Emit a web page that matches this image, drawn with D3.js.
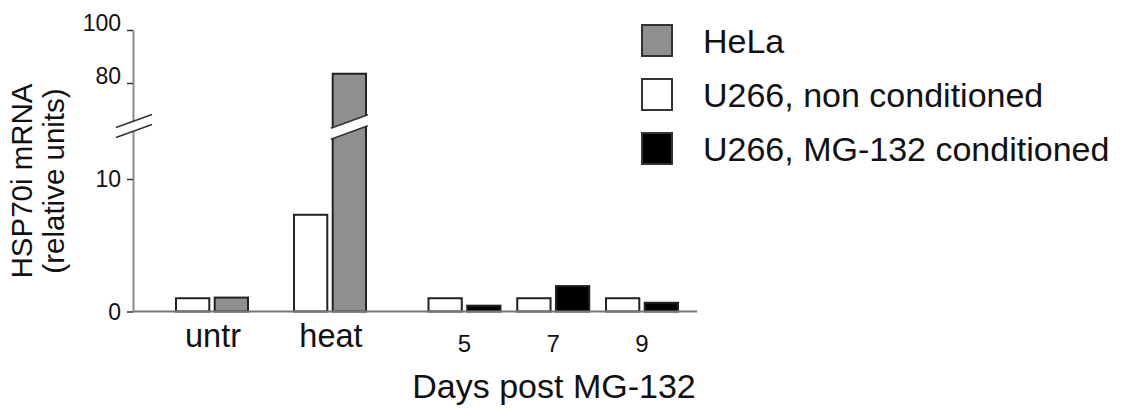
<!DOCTYPE html>
<html>
<head>
<meta charset="utf-8">
<script src="https://cdn.jsdelivr.net/npm/d3@7"></script>
<style>
  html, body { margin: 0; padding: 0; background: #fff; }
  svg { display: block; font-family: "Liberation Sans", Arial, Helvetica, sans-serif; }
</style>
</head>
<body>
<svg id="chart" width="1125" height="409"></svg>
<script>
// ---- data ----
const controlCategories = ["untr", "heat"];
const dayCategories = ["5", "7", "9"];
const categories = controlCategories.concat(dayCategories);

// U266, non conditioned (white bars), one per category
const u266NonConditioned = [1.0, 7.3, 1.0, 1.0, 1.0];
// HeLa (grey bars) for the control categories
const helaValues = [1.05, 83.5];
// U266, MG-132 conditioned (black bars) for each day
const mg132Values = [0.44, 1.92, 0.66];

const lowTicks = [0, 10];
const highTicks = [80, 100];

const seriesNames = ["HeLa", "U266, non conditioned", "U266, MG-132 conditioned"];
const seriesFills = ["#8f8f8f", "#ffffff", "#000000"];
const yTitleLines = ["HSP70i mRNA", "(relative units)"];
const xTitle = "Days post MG-132";

// ---- layout ----
const svg = d3.select("#chart");
const axisX = 133;
const axisEnd = 697;
const baseY = 311.5;
const ink = "#111";
const outline = "#222";

// broken y axis: a lower linear segment and an upper linear segment
const yLow = d3.scaleLinear().domain([0, 13.6]).range([baseY, 131.3]);
const yHigh = d3.scaleLinear().domain([65.7, 100]).range([120.9, 30]);
const yOf = v => v <= yLow.domain()[1] ? yLow(v) : yHigh(v);

// group centres
const xControl = d3.scalePoint().domain(controlCategories).range([212, 330]);
const xDay = d3.scalePoint().domain(dayCategories).range([464.5, 642]);
const xGroup = c => controlCategories.includes(c) ? xControl(c) : xDay(c);

// two bars inside each group
const xInner = d3.scaleBand().domain(["left", "right"]).range([-36, 36]).paddingInner(0.14);

// ---- bars ----
const bars = [];
categories.forEach((c, i) => {
  bars.push({ cat: c, slot: "left", value: u266NonConditioned[i], fill: seriesFills[1] });
});
controlCategories.forEach((c, i) => {
  bars.push({ cat: c, slot: "right", value: helaValues[i], fill: seriesFills[0] });
});
dayCategories.forEach((c, i) => {
  bars.push({ cat: c, slot: "right", value: mg132Values[i], fill: seriesFills[2] });
});

const barG = svg.append("g");
barG.selectAll("rect")
  .data(bars)
  .join("rect")
  .attr("x", d => xGroup(d.cat) + xInner(d.slot))
  .attr("width", xInner.bandwidth())
  .attr("y", d => yOf(d.value))
  .attr("height", d => baseY - yOf(d.value))
  .attr("fill", d => d.fill)
  .attr("stroke", outline)
  .attr("stroke-width", 2);

// slanted double-line break mark
function breakMark(g, cx, cy, halfW, gap) {
  const slope = -0.36;
  const pts = off => [[cx - halfW, cy + off - slope * halfW], [cx + halfW, cy + off + slope * halfW]];
  const a = pts(-gap / 2), b = pts(gap / 2);
  g.append("path")
    .attr("d", `M${a[0][0]},${a[0][1]}L${a[1][0]},${a[1][1]}L${b[1][0]},${b[1][1]}L${b[0][0]},${b[0][1]}Z`)
    .attr("fill", "#fff");
  [a, b].forEach(p => {
    g.append("line")
      .attr("x1", p[0][0]).attr("y1", p[0][1])
      .attr("x2", p[1][0]).attr("y2", p[1][1])
      .attr("stroke", "#333").attr("stroke-width", 1.6);
  });
}

// break across the tall HeLa bar
bars.filter(d => d.value > yLow.domain()[1]).forEach(d => {
  const cx = xGroup(d.cat) + xInner(d.slot) + xInner.bandwidth() / 2;
  breakMark(svg.append("g"), cx, 127, 18.5, 11);
});

// ---- axes ----
const axisG = svg.append("g");
// x axis line
axisG.append("line")
  .attr("x1", axisX).attr("x2", axisEnd)
  .attr("y1", baseY).attr("y2", baseY)
  .attr("stroke", "#777").attr("stroke-width", 2);

function drawAxis(scale, ticks) {
  const g = axisG.append("g")
    .attr("transform", `translate(${axisX},0)`)
    .call(d3.axisLeft(scale).tickValues(ticks).tickSize(6).tickSizeOuter(0).tickFormat(d3.format("d")));
  g.select(".domain").attr("stroke", "#8a8a8a").attr("stroke-width", 2);
  g.selectAll(".tick line").attr("stroke", "#333").attr("stroke-width", 1.5);
  g.selectAll(".tick text").remove();
  return g;
}
drawAxis(yLow, lowTicks);
drawAxis(yHigh, highTicks);

// tick labels: upper ones sit on the tick, lower ones are centred on it
const tickLabels = highTicks.map(v => ({ v, y: yHigh(v), dy: "0.05em" }))
  .concat(lowTicks.map(v => ({ v, y: yLow(v), dy: "0.36em" })));
svg.append("g").selectAll("text")
  .data(tickLabels)
  .join("text")
  .attr("x", 121)
  .attr("y", d => d.y)
  .attr("dy", d => d.dy)
  .attr("text-anchor", "end")
  .attr("font-size", 23)
  .attr("fill", ink)
  .text(d => d.v);

// break on the y axis
breakMark(svg.append("g"), axisX + 1, 126, 18, 10);

// ---- category labels ----
svg.append("g").selectAll("text")
  .data(controlCategories)
  .join("text")
  .attr("x", d => xControl(d) + 1)
  .attr("y", 346.5)
  .attr("text-anchor", "middle")
  .attr("font-size", 32.5)
  .attr("fill", ink)
  .text(d => d);

svg.append("g").selectAll("text")
  .data(dayCategories)
  .join("text")
  .attr("x", d => xDay(d))
  .attr("y", 351.5)
  .attr("text-anchor", "middle")
  .attr("font-size", 24)
  .attr("fill", ink)
  .text(d => d);

svg.append("text")
  .attr("x", 554)
  .attr("y", 398)
  .attr("text-anchor", "middle")
  .attr("font-size", 34)
  .attr("fill", ink)
  .text(xTitle);

// ---- y title ----
svg.append("g").selectAll("text")
  .data(yTitleLines)
  .join("text")
  .attr("transform", (d, i) => `translate(${[32, 64][i]},181) rotate(-90)`)
  .attr("text-anchor", "middle")
  .attr("font-size", 29.5)
  .attr("fill", ink)
  .text(d => d);

// ---- legend ----
const legend = svg.append("g").attr("transform", "translate(642,25)");
const rowStep = 54;
const item = legend.selectAll("g")
  .data(seriesNames)
  .join("g")
  .attr("transform", (d, i) => `translate(0,${i * rowStep})`);
item.append("rect")
  .attr("width", 30).attr("height", 31)
  .attr("fill", (d, i) => seriesFills[i])
  .attr("stroke", "#333").attr("stroke-width", 2);
item.append("text")
  .attr("x", 61)
  .attr("y", 28)
  .attr("font-size", 34)
  .attr("fill", ink)
  .text(d => d);
</script>
</body>
</html>
